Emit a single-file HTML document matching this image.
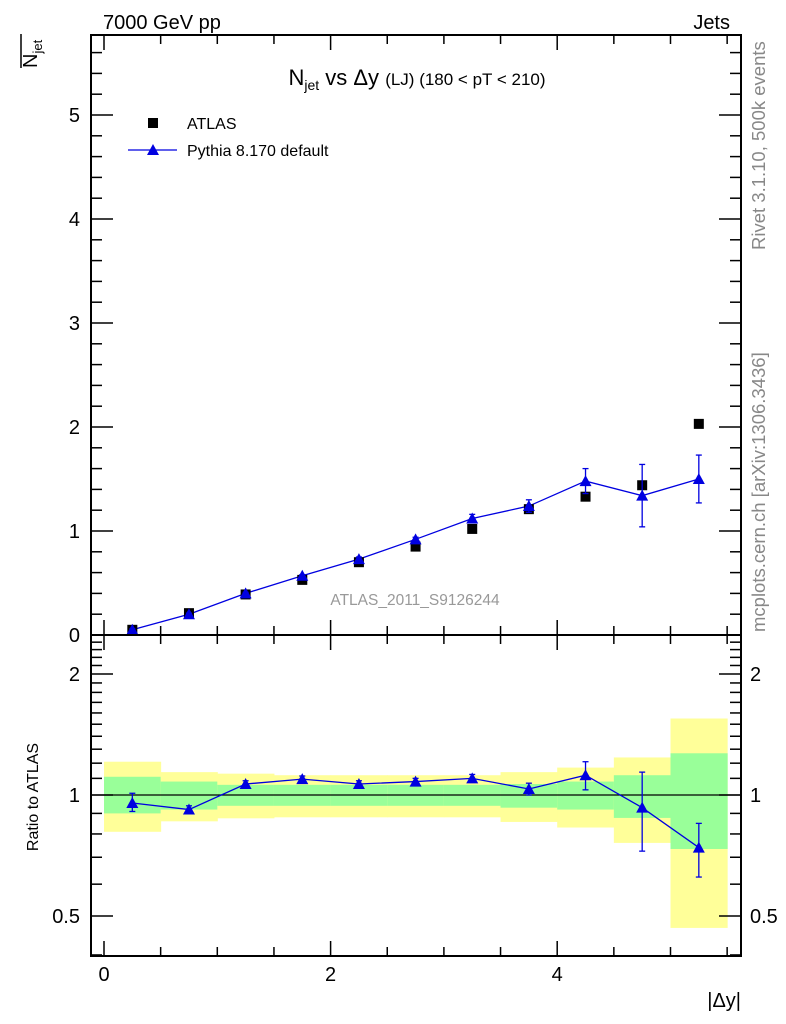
<!DOCTYPE html>
<html><head><meta charset="utf-8">
<style>
html,body{margin:0;padding:0;background:#fff;}
svg{display:block;font-family:"Liberation Sans","DejaVu Sans",sans-serif;}
</style></head>
<body>
<svg id="chart" width="786" height="1024" viewBox="0 0 786 1024" xmlns="http://www.w3.org/2000/svg">
<text x="103" y="29" font-size="20">7000 GeV pp</text>
<text x="730" y="29" font-size="20" text-anchor="end">Jets</text>
<g transform="translate(37,68) rotate(-90)">
<line x1="0" y1="-16" x2="34" y2="-16" stroke="#000" stroke-width="1.5"/>
<text x="0" y="0" font-size="20">N<tspan font-size="13" dy="5">jet</tspan></text>
</g>
<text x="417" y="85" font-size="22" text-anchor="middle">N<tspan font-size="14" dy="5">jet</tspan><tspan dy="-5"> vs Δy </tspan><tspan font-size="17">(LJ) (180 &lt; pT &lt; 210)</tspan></text>
<text transform="translate(765,250) rotate(-90)" font-size="18.5" fill="#888">Rivet 3.1.10,  500k events</text>
<text transform="translate(765,632) rotate(-90)" font-size="18.5" fill="#888">mcplots.cern.ch [arXiv:1306.3436]</text>
<text x="415" y="605" font-size="15.5" fill="#999" text-anchor="middle">ATLAS_2011_S9126244</text>
<text transform="translate(38,797) rotate(-90)" font-size="16" text-anchor="middle">Ratio to ATLAS</text>
<text x="741" y="1007" font-size="20" text-anchor="end">|Δy|</text>
<g>
<rect x="148" y="118" width="10" height="10" fill="#000"/>
<text x="187" y="129" font-size="16">ATLAS</text>
<line x1="128" y1="150" x2="177" y2="150" stroke="#0000e0" stroke-width="1.3"/>
<polygon points="153,144 159,155 147,155" fill="#0000e0"/>
<text x="187" y="156" font-size="16">Pythia 8.170 default</text>
</g>
<g id="bands"></g><g id="marks"></g><g id="axes"></g>
</svg>
<script>
const xCenters=[0.25,0.75,1.25,1.75,2.25,2.75,3.25,3.75,4.25,4.75,5.25];
const atlasVals=[0.05,0.21,0.39,0.53,0.70,0.85,1.02,1.21,1.33,1.44,2.03];
const pythiaVals=[0.05,0.20,0.40,0.57,0.73,0.92,1.12,1.24,1.48,1.34,1.50];
const pythiaErr=[0.01,0.01,0.01,0.01,0.02,0.02,0.04,0.06,0.12,0.30,0.23];
const ratioVals=[0.955,0.92,1.065,1.095,1.065,1.08,1.10,1.035,1.12,0.93,0.74];
const ratioLo=[0.91,0.90,1.045,1.075,1.045,1.06,1.075,1.0,1.03,0.725,0.625];
const ratioHi=[1.01,0.94,1.085,1.115,1.085,1.10,1.125,1.07,1.21,1.14,0.85];
const greenLo=[0.90,0.92,0.94,0.94,0.94,0.94,0.94,0.93,0.92,0.877,0.734];
const greenHi=[1.11,1.08,1.06,1.06,1.06,1.06,1.06,1.065,1.08,1.12,1.27];
const yellowLo=[0.81,0.86,0.875,0.88,0.88,0.88,0.88,0.857,0.83,0.76,0.467];
const yellowHi=[1.21,1.14,1.13,1.12,1.12,1.12,1.12,1.14,1.17,1.24,1.55];
const mainTicks=[0,1,2,3,4,5];
const ratioTicks=[0.5,1,2];
const xTicks=[0,2,4];

const NS="http://www.w3.org/2000/svg";
const L=91,R=741,T=35,M=635,B=956;
const X=v=>104+v*113.3;
const Y=v=>635-v*104;
const YR=r=>795-121*Math.log2(r);
function mk(p,tag,a){const e=document.createElementNS(NS,tag);for(const k in a)e.setAttribute(k,a[k]);p.appendChild(e);return e;}
const bands=document.getElementById('bands'),marks=document.getElementById('marks'),axes=document.getElementById('axes');
const hw=0.25;
xCenters.forEach((c,i)=>{
 let y=mk(bands,'rect',{x:X(c-hw),y:YR(yellowHi[i]),width:X(c+hw)-X(c-hw)+0.5,height:YR(yellowLo[i])-YR(yellowHi[i]),fill:'#ffff99'});
 
 
 let g=mk(bands,'rect',{x:X(c-hw),y:YR(greenHi[i]),width:X(c+hw)-X(c-hw)+0.5,height:YR(greenLo[i])-YR(greenHi[i]),fill:'#99ff99'});
 
 
});
let one=mk(bands,'line',{x1:L,x2:R,y1:YR(1),y2:YR(1),stroke:'#000','stroke-width':1.2});


let pl=mk(marks,'polyline',{points:xCenters.map((c,i)=>X(c)+','+Y(pythiaVals[i])).join(' '),fill:'none',stroke:'#0000e0','stroke-width':1.3});


let rl=mk(marks,'polyline',{points:xCenters.map((c,i)=>X(c)+','+YR(ratioVals[i])).join(' '),fill:'none',stroke:'#0000e0','stroke-width':1.3});


function errbar(x,y1,y2){mk(marks,'line',{x1:x,x2:x,y1:y1,y2:y2,stroke:'#0000e0','stroke-width':1.3});mk(marks,'line',{x1:x-3,x2:x+3,y1:y1,y2:y1,stroke:'#0000e0','stroke-width':1.3});mk(marks,'line',{x1:x-3,x2:x+3,y1:y2,y2:y2,stroke:'#0000e0','stroke-width':1.3});}
function tri(x,y){return mk(marks,'polygon',{points:`${x},${y-6} ${x+6},${y+5} ${x-6},${y+5}`,fill:'#0000e0'});}
xCenters.forEach((c,i)=>{
 const x=X(c);
 let s=mk(marks,'rect',{x:x-5,y:Y(atlasVals[i])-5,width:10,height:10,fill:'#000'});
 
 
 errbar(x,Y(pythiaVals[i]+pythiaErr[i]),Y(pythiaVals[i]-pythiaErr[i]));
 let t=tri(x,Y(pythiaVals[i]));
 
 
 errbar(x,YR(ratioHi[i]),YR(ratioLo[i]));
 let rt=tri(x,YR(ratioVals[i]));
 
 
});
let f1=mk(axes,'rect',{x:L,y:T,width:R-L,height:M-T,fill:'none',stroke:'#000','stroke-width':2});


let f2=mk(axes,'rect',{x:L,y:M,width:R-L,height:B-M,fill:'none',stroke:'#000','stroke-width':2});


const tk=(x1,y1,x2,y2)=>mk(axes,'line',{x1,y1,x2,y2,stroke:'#000','stroke-width':1.5});
for(let v=0;v<=5.5001;v+=0.5){const x=X(v);const maj=Math.abs(v-Math.round(v/2)*2)<1e-6;const len=maj?15:9;
 tk(x,T,x,T+len);tk(x,M,x,M-len);tk(x,M,x,M+len);tk(x,B,x,B-len);}
xTicks.forEach(v=>{let t=mk(axes,'text',{x:X(v),y:981,'font-size':20,'text-anchor':'middle'});t.textContent=v;
 
 });
for(let v=0;v<=5.77;v+=0.2){const y=Y(v);const maj=Math.abs(v-Math.round(v))<1e-6;const len=maj?22:11;
 if(y<T+1)continue;tk(L,y,L+len,y);tk(R,y,R-len,y);}
mainTicks.forEach(v=>{let t=mk(axes,'text',{x:80,y:Y(v)+7,'font-size':20,'text-anchor':'end'});t.textContent=v;
 
 });
const minor=[0.4,0.5,0.6,0.7,0.8,0.9,1,1.1,1.2,1.3,1.4,1.5,1.6,1.7,1.8,1.9,2,2.1,2.2,2.3,2.4];
minor.forEach(v=>{const y=YR(v);if(y>B-1||y<M+1)return;const maj=ratioTicks.includes(v);const len=maj?22:11;tk(L,y,L+len,y);tk(R,y,R-len,y);});
ratioTicks.forEach(v=>{let t=mk(axes,'text',{x:80,y:YR(v)+7,'font-size':20,'text-anchor':'end'});t.textContent=v;
 
 
 let t2=mk(axes,'text',{x:750,y:YR(v)+7,'font-size':20});t2.textContent=v;
 
 });
</script>
</body></html>
